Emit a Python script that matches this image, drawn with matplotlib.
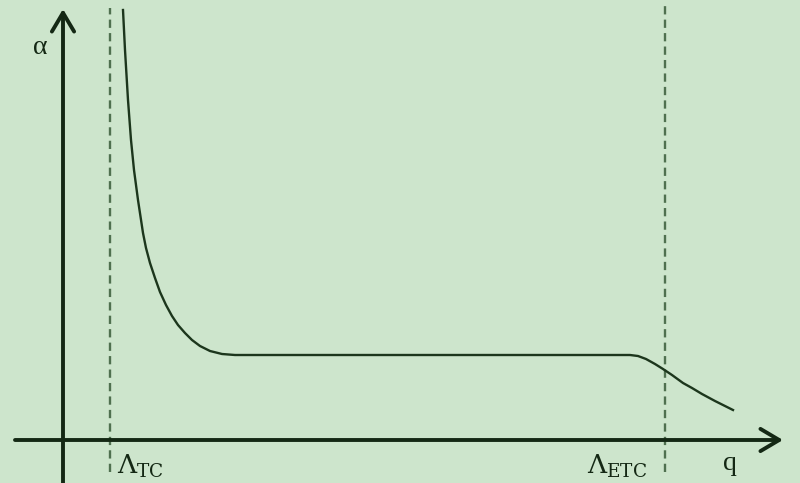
import matplotlib.pyplot as plt

q_vals = [60, 62, 65, 68, 71, 75, 80, 83, 87, 92, 97, 103, 109, 115, 122, 129, 137, 147,
          159, 172, 237, 437, 557, 567, 575, 583, 592, 600, 609, 620, 629, 639, 652, 662, 670]
alpha_vals = [430, 390, 340, 300, 270, 240, 207, 192, 177, 162, 148, 135, 124, 115, 107, 100,
              94, 89, 86, 85, 85, 85, 85, 85, 84, 81, 76, 71, 65, 57, 52, 46, 39, 34, 30]

# critical values on the q axis
lambda_tc = 47
lambda_etc = 602

bg = "#cde5cc"
ink = "#142814"

plt.rcParams['font.family'] = ['Liberation Serif', 'DejaVu Serif']

fig = plt.figure(figsize=(8, 4.83), dpi=100, facecolor=bg)
ax = fig.add_axes([0, 0, 1, 1])
ax.set_facecolor(bg)
ax.set_xlim(-63, 737)
ax.set_ylim(-43, 440)
ax.axis("off")

# axes with open arrow heads
arrow = dict(arrowstyle="->,head_length=1.35,head_width=0.8", color=ink, lw=2.8,
             shrinkA=0, shrinkB=0)
ax.annotate("", xy=(720, 0), xytext=(-48, 0), arrowprops=arrow)
ax.annotate("", xy=(0, 431), xytext=(0, -43), arrowprops=arrow)

# dashed markers
ax.plot([lambda_tc, lambda_tc], [-32, 432], ls=(0, (3.5, 2.2)), color="#4f704f", lw=1.7)
ax.plot([lambda_etc, lambda_etc], [-32, 435], ls=(0, (3.5, 2.2)), color="#4f704f", lw=1.7)

# the curve
ax.plot(q_vals, alpha_vals, color="#1c361c", lw=1.7)

# labels
ax.text(-23, 392, "α", fontsize=20, color=ink, ha="center", va="center")
ax.text(lambda_tc + 7, -26, r"$\Lambda_{\mathrm{TC}}$", fontsize=19, color=ink,
        ha="left", va="center", math_fontfamily="dejavuserif")
ax.text(lambda_etc - 78, -26, r"$\Lambda_{\mathrm{ETC}}$", fontsize=19, color=ink,
        ha="left", va="center", math_fontfamily="dejavuserif")
ax.text(667, -24, "q", fontsize=20, color=ink, ha="center", va="center")

fig.savefig("out.png", dpi=100, facecolor=bg)
